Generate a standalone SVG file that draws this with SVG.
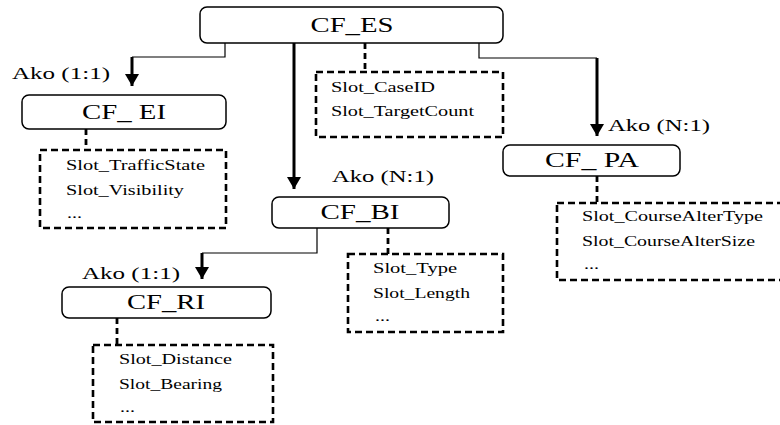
<svg xmlns="http://www.w3.org/2000/svg" width="780" height="425" viewBox="0 0 780 425">
<defs>
<style>
.node{fill:#fff;stroke:#000;stroke-width:1.5}
.slots{fill:none;stroke:#000;stroke-width:2.6;stroke-dasharray:7,4}
.dl{stroke:#000;stroke-width:2.8;stroke-dasharray:6,4;fill:none}
.thin{fill:none;stroke:#000;stroke-width:1.2}
.thick{fill:none;stroke:#000;stroke-width:3}
text{font-family:"Liberation Serif","Times New Roman",serif;fill:#000}
.t{font-size:20px;text-anchor:middle}
.s{font-size:14px}
.a{font-size:17px}
</style>
<marker id="ah2" markerUnits="userSpaceOnUse" markerWidth="14" markerHeight="14" refX="12" refY="7" orient="auto" viewBox="0 0 12 14">
<path d="M0,0 L12,7 L0,14 Z" fill="#000"/>
</marker>
</defs>
<g id="connectors">
<path class="thin" d="M225,43 V57 H132"/>
<path class="thick" d="M132,57 V86" marker-end="url(#ah2)"/>
<path class="thick" d="M294,43 V189" marker-end="url(#ah2)"/>
<path class="thin" d="M479,43 V58 H597"/>
<path class="thick" d="M597,58 V136" marker-end="url(#ah2)"/>
<path class="thin" d="M317,228 V253 H202"/>
<path class="thick" d="M202,253 V279" marker-end="url(#ah2)"/>
<path class="dl" d="M365,43 V72"/>
<path class="dl" d="M86,129 V150"/>
<path class="dl" d="M388,228 V254"/>
<path class="dl" d="M597,176 V203"/>
<path class="dl" d="M117,318 V345"/>
</g>
<g id="labels">
<text class="a" x="12" y="79" textLength="98" lengthAdjust="spacingAndGlyphs">Ako (1:1)</text>
<text class="a" x="608" y="131" textLength="102" lengthAdjust="spacingAndGlyphs">Ako (N:1)</text>
<text class="a" x="332" y="182" textLength="102" lengthAdjust="spacingAndGlyphs">Ako (N:1)</text>
<text class="a" x="82" y="279" textLength="98" lengthAdjust="spacingAndGlyphs">Ako (1:1)</text>
</g>
<g id="CF_ES">
<rect class="node" x="200" y="7" width="303" height="36" rx="7"/>
<text class="t" x="352" y="32" textLength="83" lengthAdjust="spacingAndGlyphs">CF_ES</text>
</g>
<g id="CF_ES_slots">
<rect class="slots" x="316" y="72" width="187" height="65"/>
<text class="s" x="331" y="92" textLength="104" lengthAdjust="spacingAndGlyphs">Slot_CaseID</text>
<text class="s" x="331" y="116" textLength="143" lengthAdjust="spacingAndGlyphs">Slot_TargetCount</text>
</g>
<g id="CF_EI">
<rect class="node" x="22" y="95" width="204" height="34" rx="7"/>
<text class="t" x="124" y="119" textLength="84" lengthAdjust="spacingAndGlyphs">CF_ EI</text>
</g>
<g id="CF_EI_slots">
<rect class="slots" x="40" y="150" width="186" height="78"/>
<text class="s" x="66" y="170" textLength="139" lengthAdjust="spacingAndGlyphs">Slot_TrafficState</text>
<text class="s" x="66" y="195" textLength="118" lengthAdjust="spacingAndGlyphs">Slot_Visibility</text>
<text class="s" x="67" y="218" textLength="15" lengthAdjust="spacingAndGlyphs">...</text>
</g>
<g id="CF_PA">
<rect class="node" x="503" y="145" width="177" height="31" rx="7"/>
<text class="t" x="592" y="167" textLength="94" lengthAdjust="spacingAndGlyphs">CF_ PA</text>
</g>
<g id="CF_PA_slots">
<rect class="slots" x="557" y="203" width="230" height="77"/>
<text class="s" x="582" y="221" textLength="181" lengthAdjust="spacingAndGlyphs">Slot_CourseAlterType</text>
<text class="s" x="582" y="246" textLength="173" lengthAdjust="spacingAndGlyphs">Slot_CourseAlterSize</text>
<text class="s" x="584" y="269" textLength="15" lengthAdjust="spacingAndGlyphs">...</text>
</g>
<g id="CF_BI">
<rect class="node" x="272" y="197" width="177" height="31" rx="7"/>
<text class="t" x="360" y="219" textLength="79" lengthAdjust="spacingAndGlyphs">CF_BI</text>
</g>
<g id="CF_BI_slots">
<rect class="slots" x="348" y="254" width="155" height="78"/>
<text class="s" x="373" y="273" textLength="84" lengthAdjust="spacingAndGlyphs">Slot_Type</text>
<text class="s" x="373" y="298" textLength="97" lengthAdjust="spacingAndGlyphs">Slot_Length</text>
<text class="s" x="375" y="321" textLength="15" lengthAdjust="spacingAndGlyphs">...</text>
</g>
<g id="CF_RI">
<rect class="node" x="62" y="287" width="209" height="31" rx="7"/>
<text class="t" x="166" y="309" textLength="78" lengthAdjust="spacingAndGlyphs">CF_RI</text>
</g>
<g id="CF_RI_slots">
<rect class="slots" x="93" y="345" width="180" height="77"/>
<text class="s" x="119" y="364" textLength="113" lengthAdjust="spacingAndGlyphs">Slot_Distance</text>
<text class="s" x="119" y="389" textLength="103" lengthAdjust="spacingAndGlyphs">Slot_Bearing</text>
<text class="s" x="120" y="412" textLength="15" lengthAdjust="spacingAndGlyphs">...</text>
</g>
</svg>
